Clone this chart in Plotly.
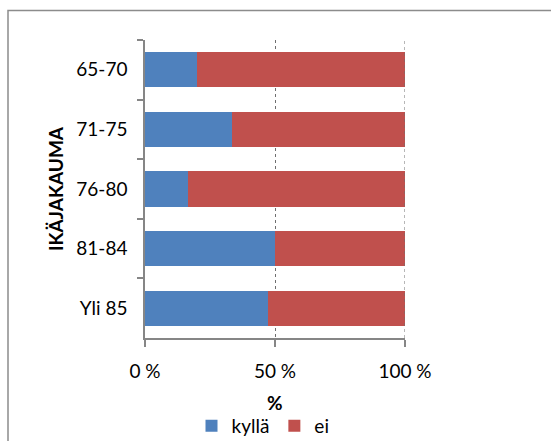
import plotly.graph_objects as go

categories = ["65-70", "71-75", "76-80", "81-84", "Yli 85"]
kylla = [20.1, 33.3, 16.7, 50.0, 47.4]
ei = [79.9, 66.7, 83.3, 50.0, 52.6]
x_ticks = [0, 50, 100]
x_ticklabels = ["0 %", "50 %", "100 %"]
x_title = "%"
y_title = "IKÄJAKAUMA"

FONT = "Lato, 'Liberation Sans', sans-serif"

W, H = 551, 441
L, R, T, B = 145, 405, 40, 338

fig = go.Figure()
fig.add_trace(go.Bar(y=categories, x=kylla, name="kyllä", orientation="h",
                     marker=dict(color="#4F81BD", line=dict(width=0))))
fig.add_trace(go.Bar(y=categories, x=ei, name="ei", orientation="h",
                     marker=dict(color="#C0504D", line=dict(width=0))))

def px_x(p):
    return (p - L) / (R - L)

def px_y(p):
    return (B - p) / (B - T)

fig.update_layout(
    width=W, height=H,
    margin=dict(l=L, r=W - R, t=T, b=H - B, autoexpand=False),
    barmode="stack", bargap=0.41,
    paper_bgcolor="white", plot_bgcolor="white",
    font=dict(family=FONT, size=19, color="black"),
    showlegend=True,
    legend=dict(orientation="h", xref="container", yref="container",
                x=263 / W, xanchor="center",
                y=(H - 426) / H, yanchor="middle",
                font=dict(size=19), itemwidth=30, traceorder="normal",
                bgcolor="rgba(0,0,0,0)"),
    xaxis=dict(range=[0, 100], tickvals=x_ticks, ticktext=x_ticklabels,
               showgrid=True, gridcolor="#6f6f6f", griddash="dot", gridwidth=1,
               showline=True, linecolor="#868686", linewidth=1.5,
               ticks="outside", ticklen=7, tickcolor="#868686", tickwidth=1.5,
               ticklabelstandoff=8, zeroline=False, automargin=False),
    yaxis=dict(categoryorder="array", categoryarray=categories,
               autorange="reversed", tickson="boundaries",
               showline=True, linecolor="#868686", linewidth=1.5,
               ticks="outside", ticklen=6, tickcolor="#868686", tickwidth=1.5,
               ticklabelstandoff=12, showgrid=False, automargin=False,
               title=dict(text="<b>" + y_title + "</b>", standoff=8, font=dict(size=19))),
    annotations=[dict(text="<b>" + x_title + "</b>", xref="paper", yref="paper",
                      x=0.5, y=px_y(402), xanchor="center", yanchor="middle",
                      showarrow=False, font=dict(size=19))],
    shapes=[
        dict(type="rect", xref="paper", yref="paper",
             x0=px_x(8), x1=px_x(600), y0=px_y(10.5), y1=px_y(500),
             line=dict(color="#8c8c8c", width=1.5), fillcolor="rgba(0,0,0,0)",
             layer="below"),
        dict(type="line", xref="x", yref="paper", x0=100, x1=100, y0=0, y1=1,
             line=dict(color="#6f6f6f", width=1, dash="dot"), layer="above"),
    ],
)

fig.write_html("out.html")
